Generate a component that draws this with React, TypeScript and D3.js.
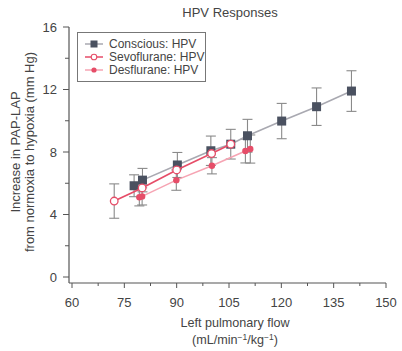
import { useEffect, useRef } from 'react'
import * as d3 from 'd3'

const FONT = '"Liberation Sans", Arial, sans-serif'

// Conscious: HPV
const consciousFlow = [77.8, 80.2, 90.2, 99.8, 105.5, 110.3, 120.1, 130.1, 140.1]
const consciousHpv  = [5.84, 6.2, 7.17, 8.08, 8.5, 9.04, 9.98, 10.9, 11.9]
const consciousErr  = [0.7, 0.75, 0.8, 0.94, 0.95, 1.05, 1.13, 1.2, 1.3]

// Sevoflurane: HPV
const sevoFlow = [72.1, 80.1, 90.0, 100.0, 105.5]
const sevoHpv  = [4.86, 5.7, 6.85, 7.9, 8.5]
const sevoErr  = [1.1, 0, 0, 0, 0]

// Desflurane: HPV
const desFlow = [79.3, 80.1, 89.9, 100.1, 109.7, 111.1]
const desHpv  = [5.1, 5.16, 6.2, 7.12, 8.06, 8.19]
const desErr  = [0.55, 0.55, 0.65, 0.52, 0.76, 0.9]

const xTicks = [60, 75, 90, 105, 120, 135, 150]
const yTicks = [0, 4, 8, 12, 16]

const C_DARK = '#4a5160'
const C_GRAY_LINE = '#a9a9b1'
const C_SEVO = '#e64d68'
const C_DES_LINE = '#f6a4b3'
const C_ERR = '#8a8a8a'
const C_AXIS = '#555'
const C_TEXT = '#444'

export default function App() {
  const svgRef = useRef<SVGSVGElement>(null)

  useEffect(() => {
    document.body.style.margin = '0'
    const svg = d3.select(svgRef.current)
    svg.selectAll('*').remove()

    const x = d3.scaleLinear().domain([60, 150]).range([72, 386])
    const y = d3.scaleLinear().domain([0, 16]).range([277, 27])
    const axisX = 69
    const axisY = 283

    // Title
    svg.append('text').attr('x', 230).attr('y', 17).attr('text-anchor', 'middle')
      .attr('font-family', FONT).attr('font-size', 13).attr('fill', C_TEXT).text('HPV Responses')

    // Y axis
    svg.append('line').attr('x1', axisX).attr('x2', axisX).attr('y1', y(16)).attr('y2', axisY)
      .attr('stroke', C_AXIS).attr('stroke-width', 1.2)
    d3.range(0, 17, 2).forEach(v => {
      const major = v % 4 === 0
      svg.append('line').attr('x1', axisX - (major ? 6 : 4)).attr('x2', axisX)
        .attr('y1', y(v)).attr('y2', y(v)).attr('stroke', C_AXIS).attr('stroke-width', 1)
    })
    yTicks.forEach(v => {
      svg.append('text').attr('x', 57).attr('y', y(v)).attr('dy', '0.35em')
        .attr('text-anchor', 'end').attr('font-family', FONT).attr('font-size', 13)
        .attr('fill', C_TEXT).text(v)
    })

    // X axis
    svg.append('line').attr('x1', axisX).attr('x2', x(150)).attr('y1', axisY).attr('y2', axisY)
      .attr('stroke', C_AXIS).attr('stroke-width', 1.2)
    d3.range(60, 151, 7.5).forEach(v => {
      const major = v % 15 === 0
      svg.append('line').attr('x1', x(v)).attr('x2', x(v))
        .attr('y1', axisY).attr('y2', axisY + (major ? 5 : 3)).attr('stroke', C_AXIS).attr('stroke-width', 1)
    })
    xTicks.forEach(v => {
      svg.append('text').attr('x', x(v)).attr('y', 307).attr('text-anchor', 'middle')
        .attr('font-family', FONT).attr('font-size', 13).attr('fill', C_TEXT).text(v)
    })

    // Axis labels
    svg.append('text').attr('x', 235).attr('y', 327).attr('text-anchor', 'middle')
      .attr('font-family', FONT).attr('font-size', 12.6).attr('fill', C_TEXT).text('Left pulmonary flow')
    const xl2 = svg.append('text').attr('x', 235).attr('y', 344).attr('text-anchor', 'middle')
      .attr('font-family', FONT).attr('font-size', 12.6).attr('fill', C_TEXT)
    xl2.append('tspan').text('(mL/min')
    xl2.append('tspan').attr('dy', -4).attr('font-size', 8.5).text('\u22121')
    xl2.append('tspan').attr('dy', 4).text('/kg')
    xl2.append('tspan').attr('dy', -4).attr('font-size', 8.5).text('\u22121')
    xl2.append('tspan').attr('dy', 4).text(')')

    const yl = svg.append('g').attr('transform', 'translate(0,152) rotate(-90)')
    yl.append('text').attr('x', 0).attr('y', 20).attr('text-anchor', 'middle')
      .attr('font-family', FONT).attr('font-size', 13).attr('fill', C_TEXT).text('Increase in PAP-LAP')
    yl.append('text').attr('x', 0).attr('y', 34).attr('text-anchor', 'middle')
      .attr('font-family', FONT).attr('font-size', 13).attr('fill', C_TEXT).text('from normoxia to hypoxia (mm Hg)')

    const errBars = (xs: number[], ys: number[], es: number[]) => {
      const g = svg.append('g').attr('stroke', C_ERR).attr('stroke-width', 1.1)
      xs.forEach((xv, i) => {
        if (!es[i]) return
        const cx = x(xv), top = y(ys[i] + es[i]), bot = y(ys[i] - es[i])
        g.append('line').attr('x1', cx).attr('x2', cx).attr('y1', top).attr('y2', bot)
        g.append('line').attr('x1', cx - 5).attr('x2', cx + 5).attr('y1', top).attr('y2', top)
        g.append('line').attr('x1', cx - 5).attr('x2', cx + 5).attr('y1', bot).attr('y2', bot)
      })
    }
    const line = d3.line<[number, number]>().x(d => x(d[0])).y(d => y(d[1]))

    // Error bars
    errBars(consciousFlow, consciousHpv, consciousErr)
    errBars(desFlow, desHpv, desErr)
    errBars(sevoFlow, sevoHpv, sevoErr)

    // Conscious
    svg.append('path').attr('d', line(consciousFlow.map((v, i) => [v, consciousHpv[i]]))!)
      .attr('fill', 'none').attr('stroke', C_GRAY_LINE).attr('stroke-width', 1.6)
    consciousFlow.forEach((v, i) => {
      svg.append('rect').attr('x', x(v) - 4.5).attr('y', y(consciousHpv[i]) - 4.5)
        .attr('width', 9).attr('height', 9).attr('fill', C_DARK)
    })

    // Desflurane
    svg.append('path').attr('d', line(desFlow.map((v, i) => [v, desHpv[i]]))!)
      .attr('fill', 'none').attr('stroke', C_DES_LINE).attr('stroke-width', 1.6)
    desFlow.forEach((v, i) => {
      svg.append('circle').attr('cx', x(v)).attr('cy', y(desHpv[i])).attr('r', 3.2).attr('fill', C_SEVO)
    })

    // Sevoflurane
    svg.append('path').attr('d', line(sevoFlow.map((v, i) => [v, sevoHpv[i]]))!)
      .attr('fill', 'none').attr('stroke', C_SEVO).attr('stroke-width', 1.7)
    sevoFlow.forEach((v, i) => {
      svg.append('circle').attr('cx', x(v)).attr('cy', y(sevoHpv[i])).attr('r', 3.8)
        .attr('fill', '#fff').attr('stroke', C_SEVO).attr('stroke-width', 1.3)
    })

    // Legend
    const lg = svg.append('g')
    lg.append('rect').attr('x', 77.5).attr('y', 32.5).attr('width', 128).attr('height', 49)
      .attr('fill', '#fff').attr('stroke', '#777').attr('stroke-width', 1)
    const items = [
      { label: 'Conscious: HPV', line: C_GRAY_LINE, kind: 'square' },
      { label: 'Sevoflurane: HPV', line: C_SEVO, kind: 'hollow' },
      { label: 'Desflurane: HPV', line: C_DES_LINE, kind: 'dot' },
    ]
    items.forEach((it, i) => {
      const ly = 44 + i * 13
      lg.append('line').attr('x1', 85).attr('x2', 103).attr('y1', ly).attr('y2', ly)
        .attr('stroke', it.line).attr('stroke-width', 1.5)
      if (it.kind === 'square') {
        lg.append('rect').attr('x', 94 - 3.5).attr('y', ly - 3.5).attr('width', 7).attr('height', 7).attr('fill', C_DARK)
      } else if (it.kind === 'hollow') {
        lg.append('circle').attr('cx', 94).attr('cy', ly).attr('r', 2.8)
          .attr('fill', '#fff').attr('stroke', C_SEVO).attr('stroke-width', 1.1)
      } else {
        lg.append('circle').attr('cx', 94).attr('cy', ly).attr('r', 2.6).attr('fill', C_SEVO)
      }
      lg.append('text').attr('x', 109).attr('y', ly).attr('dy', '0.35em')
        .attr('font-family', FONT).attr('font-size', 12).attr('fill', C_TEXT).text(it.label)
    })
  }, [])

  return <svg ref={svgRef} width={402} height={351} style={{ display: 'block', background: '#fff' }} />
}
